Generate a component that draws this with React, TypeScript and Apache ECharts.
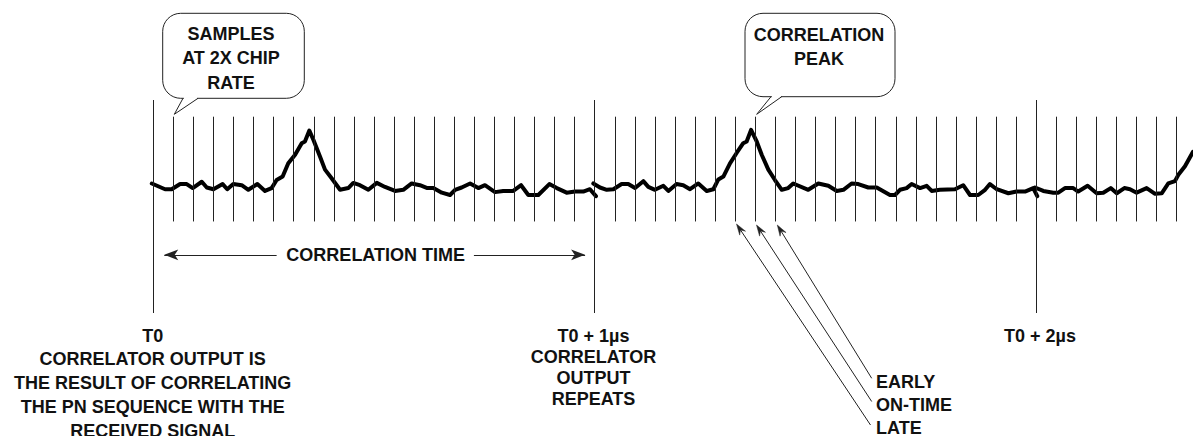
import React, { useEffect, useRef } from "react";
import * as echarts from "echarts";

// ---- Data (x in sample periods of the 2x chip-rate clock, y in relative correlator output) ----
const SAMPLE_TICKS = [
  1, 2, 3, 4, 5, 6, 7, 8, 9, 10, 11, 12, 13, 14, 15, 16, 17, 18, 19, 20, 21,
  23, 24, 25, 26, 27, 28, 29, 30, 31, 32, 33, 34, 35, 36, 37, 38, 39, 40, 41, 42, 43,
  45, 46, 47, 48, 49, 50, 51,
];
const EPOCH_TICKS = [0, 22, 44];
const EPOCH_LABELS = ["T0", "T0 + 1\u00b5s", "T0 + 2\u00b5s"];

const PERIOD_1 = [
  [-0.07, 0.05], [0.59, -0.05], [0.92, -0.05], [1.34, 0.04], [1.67, 0.04], [1.97, -0.03],
  [2.42, 0.08], [2.67, -0.02], [3.0, -0.05], [3.46, 0.04], [3.69, -0.05], [3.99, 0.04],
  [4.41, 0.02], [4.74, -0.06], [5.19, 0.04], [5.57, -0.08], [5.9, -0.03], [6.15, 0.11],
  [6.45, 0.17], [6.73, 0.4], [7.07, 0.55], [7.4, 0.75], [7.56, 0.78], [7.78, 0.97],
  [7.98, 0.81], [8.31, 0.52], [8.56, 0.29], [8.89, 0.14], [9.31, -0.06], [9.72, -0.03],
  [9.97, 0.06], [10.3, 0.02], [10.72, -0.06], [11.14, 0.06], [11.55, -0.01], [12.05, -0.08],
  [12.46, -0.06], [12.88, 0.05], [13.29, 0.02], [13.66, -0.03], [13.96, -0.03], [14.38, -0.11],
  [14.79, -0.15], [15.04, -0.06], [15.37, -0.02], [15.79, 0.05], [16.2, -0.03], [16.53, 0.02],
  [17.03, -0.1], [17.44, -0.08], [17.94, -0.08], [18.33, 0.02], [18.69, -0.15], [19.19, -0.15],
  [19.74, 0.04], [20.11, -0.03], [20.6, -0.11], [21.02, -0.09], [21.43, -0.09], [21.76, -0.05],
  [22.06, -0.17],
];
const PERIOD_2 = [
  [21.93, 0.05], [22.26, -0.02], [22.6, -0.06], [22.93, -0.05], [23.34, 0.04], [23.67, 0.04],
  [24.01, -0.03], [24.42, 0.09], [24.67, -0.01], [25.0, -0.06], [25.42, 0.01], [25.67, -0.08],
  [26.08, 0.04], [26.41, 0.02], [26.75, -0.05], [27.16, 0.05], [27.58, -0.08], [27.91, -0.05],
  [28.16, 0.12], [28.41, 0.17], [28.74, 0.4], [29.07, 0.58], [29.4, 0.75], [29.57, 0.78],
  [29.79, 0.98], [30.07, 0.78], [30.32, 0.55], [30.65, 0.29], [30.98, 0.11], [31.32, -0.06],
  [31.64, -0.03], [31.89, 0.05], [32.64, -0.06], [33.14, 0.05], [33.64, 0.01], [34.06, -0.08],
  [34.39, -0.06], [34.8, 0.05], [35.13, 0.04], [35.63, -0.02], [36.05, -0.02], [36.71, -0.15],
  [36.96, -0.15], [37.21, -0.06], [37.54, -0.03], [37.79, 0.04], [38.21, -0.03], [38.54, 0.01],
  [38.79, -0.08], [39.2, -0.06], [39.95, -0.05], [40.36, 0.02], [40.7, -0.15], [41.11, -0.15],
  [41.45, -0.06], [41.69, 0.04], [42.03, -0.05], [42.61, -0.12], [43.02, -0.09], [43.44, -0.09],
  [43.85, -0.03], [44.05, -0.17],
];
const PERIOD_3 = [
  [43.94, -0.02], [44.35, -0.08], [44.85, -0.11], [45.1, -0.11], [45.43, -0.03], [45.84, -0.03],
  [46.09, -0.09], [46.56, 0.01], [47.01, -0.12], [47.34, -0.11], [47.71, -0.03], [48.01, -0.12],
  [48.39, -0.03], [48.67, -0.05], [49.0, -0.11], [49.5, -0.03], [49.92, -0.13], [50.25, -0.12],
  [50.58, 0.05], [50.91, 0.09], [51.08, 0.2], [51.41, 0.35], [51.81, 0.6],
];

const LEFT_NOTE = [
  "CORRELATOR OUTPUT IS",
  "THE RESULT OF CORRELATING",
  "THE PN SEQUENCE WITH THE",
  "RECEIVED SIGNAL",
];
const MID_NOTE = ["CORRELATOR", "OUTPUT", "REPEATS"];
const SAMPLES_NOTE = ["SAMPLES", "AT 2X CHIP", "RATE"];
const PEAK_NOTE = ["CORRELATION", "PEAK"];
const TAP_LABELS = ["EARLY", "ON-TIME", "LATE"];
const CORR_TIME_LABEL = "CORRELATION TIME";

// ---- Styling / layout ----
const FONT = 'bold 18px "Liberation Sans", Arial, Helvetica, sans-serif';
const INK = "#111";
const THIN = "#222";

function txt(text: string, x: number, y: number, align: string = "center") {
  return {
    type: "text",
    x,
    y,
    silent: true,
    z: 100,
    style: {
      text,
      font: FONT,
      fill: INK,
      textAlign: align,
      textVerticalAlign: "middle",
      align,
      verticalAlign: "middle",
    },
  };
}

function arrow(tip: [number, number], tail: [number, number]) {
  const L = 11;
  const W = 7;
  const dx = tip[0] - tail[0];
  const dy = tip[1] - tail[1];
  const len = Math.hypot(dx, dy);
  const ux = dx / len;
  const uy = dy / len;
  const nx = -uy;
  const ny = ux;
  const bx = tip[0] - ux * L;
  const by = tip[1] - uy * L;
  const nk: [number, number] = [tip[0] - ux * L * 0.65, tip[1] - uy * L * 0.65];
  return [
    {
      type: "line",
      silent: true,
      z: 100,
      shape: { x1: tail[0], y1: tail[1], x2: nk[0], y2: nk[1] },
      style: { stroke: THIN, lineWidth: 1 },
    },
    {
      type: "polygon",
      silent: true,
      z: 100,
      shape: {
        points: [tip, [bx + (nx * W) / 2, by + (ny * W) / 2], nk, [bx - (nx * W) / 2, by - (ny * W) / 2]],
      },
      style: { fill: THIN, stroke: THIN, lineWidth: 0.5 },
    },
  ];
}

function bubble(x: number, y: number, w: number, h: number, tail: [number, number][]) {
  return [
    {
      type: "rect",
      silent: true,
      z: 100,
      shape: { x, y, width: w, height: h, r: 18 },
      style: { fill: "#fff", stroke: THIN, lineWidth: 1 },
    },
    {
      type: "line",
      silent: true,
      z: 101,
      shape: { x1: tail[0][0] + 0.8, y1: y + h, x2: tail[2][0] - 0.8, y2: y + h },
      style: { stroke: "#fff", lineWidth: 2.5 },
    },
    {
      type: "polyline",
      silent: true,
      z: 102,
      shape: { points: tail },
      style: { stroke: THIN, lineWidth: 1, fill: null },
    },
  ];
}

const TICK_TOP = 1.21;
const TICK_BOTTOM = -0.61;
const Y_MIN = -2.2;
const Y_MAX = 1.5;
const CT_Y = -1.19;

function buildOption() {
  const markData: any[] = [];
  SAMPLE_TICKS.forEach((k) => markData.push([{ coord: [k, TICK_BOTTOM] }, { coord: [k, TICK_TOP] }]));
  EPOCH_TICKS.forEach((k) => markData.push([{ coord: [k, Y_MIN] }, { coord: [k, Y_MAX] }]));
  markData.push([
    { coord: [0.55, CT_Y], symbol: "arrow" },
    { coord: [6.15, CT_Y], symbol: "none" },
  ]);
  markData.push([
    { coord: [15.98, CT_Y], symbol: "none" },
    { coord: [21.52, CT_Y], symbol: "arrow" },
  ]);

  const wave = (data: number[][]) => ({
    type: "line",
    data,
    showSymbol: false,
    symbol: "none",
    clip: false,
    z: 3,
    silent: true,
    lineStyle: { color: "#000", width: 4, cap: "round", join: "round" },
  });

  const graphic: any[] = [];
  // epoch labels + notes
  graphic.push(txt(EPOCH_LABELS[0], 152.7, 335.7));
  LEFT_NOTE.forEach((t, i) => graphic.push(txt(t, 152.7, 359.3 + i * 23.9)));
  graphic.push(txt(EPOCH_LABELS[1], 593.5, 336));
  MID_NOTE.forEach((t, i) => graphic.push(txt(t, 593.5, 357.2 + i * 21)));
  graphic.push(txt(EPOCH_LABELS[2], 1040, 336));
  graphic.push(txt(CORR_TIME_LABEL, 375.7, 255));
  // callouts
  graphic.push(...bubble(162.7, 13.3, 141.6, 85, [[183, 98.3], [174.3, 114.3], [198, 98.3]]));
  SAMPLES_NOTE.forEach((t, i) => graphic.push(txt(t, 231, 33.8 + i * 24.6)));
  graphic.push(...bubble(745, 13.3, 150, 83.4, [[771, 96.7], [756.7, 114.3], [781.7, 96.7]]));
  PEAK_NOTE.forEach((t, i) => graphic.push(txt(t, 819, 35 + i * 24.3)));
  // early / on-time / late
  const tapTips: [number, number][] = [[777.3, 225], [756.5, 225], [736.5, 224]];
  const tapTails: [number, number][] = [[871.7, 378.3], [871.7, 401.5], [870.5, 425]];
  const tapY = [381.7, 405, 428.3];
  TAP_LABELS.forEach((t, i) => {
    graphic.push(...arrow(tapTips[i], tapTails[i]));
    graphic.push(txt(t, 876, tapY[i], "left"));
  });

  return {
    animation: false,
    backgroundColor: "#fff",
    grid: { left: 151.2, right: 0, top: 100, height: 213, containLabel: false },
    xAxis: { type: "value", min: -0.1, max: 51.81, show: false },
    yAxis: { type: "value", min: Y_MIN, max: Y_MAX, show: false },
    series: [
      {
        type: "line",
        data: [],
        z: 1,
        color: THIN,
        silent: true,
        markLine: {
          silent: true,
          symbol: ["none", "none"],
          symbolSize: [8, 14],
          label: { show: false },
          emphasis: { disabled: true },
          itemStyle: { color: THIN },
          lineStyle: { color: THIN, width: 1, type: "solid" },
          data: markData,
        },
      },
      wave(PERIOD_1),
      wave(PERIOD_2),
      wave(PERIOD_3),
    ],
    graphic,
  };
}

export default function App() {
  const ref = useRef<HTMLDivElement>(null);
  useEffect(() => {
    if (!ref.current) return;
    const chart = echarts.init(ref.current, null, { renderer: "svg" });
    chart.setOption(buildOption() as any);
    return () => chart.dispose();
  }, []);
  return (
    <div
      ref={ref}
      style={{ position: "absolute", left: 0, top: 0, width: 1193, height: 436, background: "#fff" }}
    />
  );
}
